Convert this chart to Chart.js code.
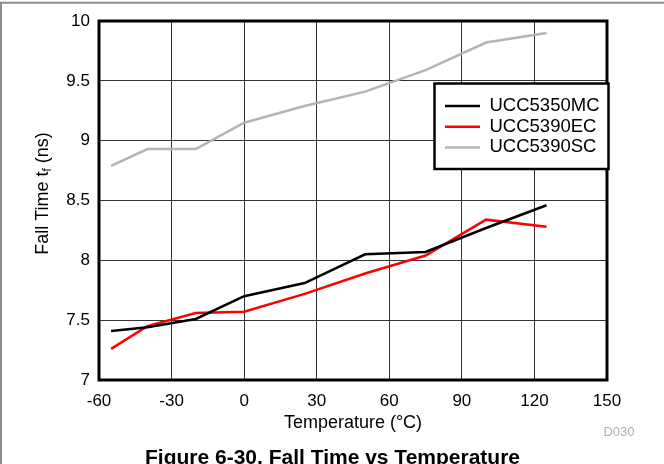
<!DOCTYPE html>
<html>
<head>
<meta charset="utf-8">
<script src="https://cdn.jsdelivr.net/npm/chart.js@4.4.0/dist/chart.umd.min.js"></script>
<style>
    body { margin: 0; background: #fff; }
    canvas { display: block; }
</style>
</head>
<body>
<canvas id="fallChart" width="664" height="464"></canvas>
<script>
// temperatures in °C, fall time in ns
const temps = [-55, -40, -20, 0, 25, 50, 75, 100, 125];
const ucc5350mc = [7.41, 7.44, 7.51, 7.70, 7.81, 8.05, 8.07, 8.27, 8.46];
const ucc5390ec = [7.26, 7.45, 7.56, 7.57, 7.72, 7.89, 8.04, 8.34, 8.28];
const ucc5390sc = [8.79, 8.93, 8.93, 9.15, 9.29, 9.41, 9.59, 9.82, 9.90];
const seriesNames = ["UCC5350MC", "UCC5390EC", "UCC5390SC"];
const xTicks = [-60, -30, 0, 30, 60, 90, 120, 150];
const yTicks = [7, 7.5, 8, 8.5, 9, 9.5, 10];

const FONT = "'Liberation Sans', Arial, sans-serif";

function points(values) {
    return temps.map((t, i) => ({ x: t, y: values[i] }));
}

const decorations = {
    id: "decorations",
    afterDraw(chart) {
        const ctx = chart.ctx;
        const area = chart.chartArea;
        ctx.save();

        // page frame (top and left)
        ctx.strokeStyle = "#8c8c8c";
        ctx.lineWidth = 2;
        ctx.beginPath();
        ctx.moveTo(0, 2.7);
        ctx.lineTo(664, 2.7);
        ctx.moveTo(1, 2);
        ctx.lineTo(1, 464);
        ctx.stroke();

        // plot frame
        ctx.strokeStyle = "#000";
        ctx.lineWidth = 3;
        ctx.strokeRect(area.left, area.top, area.right - area.left, area.bottom - area.top);

        // y axis title with subscript
        const midY = (area.top + area.bottom) / 2 - 7;
        ctx.translate(48, midY);
        ctx.rotate(-Math.PI / 2);
        ctx.fillStyle = "#000";
        ctx.textBaseline = "alphabetic";
        ctx.textAlign = "left";
        const big = "18px " + FONT;
        const small = "12px " + FONT;
        ctx.font = big;
        const w1 = ctx.measureText("Fall Time t").width;
        const w3 = ctx.measureText(" (ns)").width;
        ctx.font = small;
        const w2 = ctx.measureText("f").width;
        let x = -(w1 + w2 + w3) / 2;
        ctx.font = big;
        ctx.fillText("Fall Time t", x, 0);
        x += w1;
        ctx.font = small;
        ctx.fillText("f", x, 3);
        x += w2;
        ctx.font = big;
        ctx.fillText(" (ns)", x, 0);
        ctx.setTransform(1, 0, 0, 1, 0, 0);

        // legend box
        const lx = 434.5, ly = 83.5, lw = 174, lh = 85.5;
        ctx.fillStyle = "#fff";
        ctx.fillRect(lx, ly, lw, lh);
        ctx.strokeStyle = "#000";
        ctx.lineWidth = 2.5;
        ctx.strokeRect(lx, ly, lw, lh);
        ctx.font = "18.5px " + FONT;
        ctx.textBaseline = "middle";
        chart.data.datasets.forEach((ds, i) => {
            const rowY = 106 + i * 20.7;
            ctx.strokeStyle = ds.borderColor;
            ctx.lineWidth = 2.5;
            ctx.beginPath();
            ctx.moveTo(445, rowY);
            ctx.lineTo(480, rowY);
            ctx.stroke();
            ctx.fillStyle = "#000";
            ctx.fillText(ds.label, 489.5, rowY);
        });

        // figure caption and code
        ctx.fillStyle = "#b0b0b0";
        ctx.font = "13px " + FONT;
        ctx.textAlign = "center";
        ctx.fillText("D030", 619, 432);
        ctx.fillStyle = "#000";
        ctx.font = "bold 21px " + FONT;
        ctx.textBaseline = "alphabetic";
        ctx.fillText("Figure 6-30. Fall Time vs Temperature", 332.5, 464);

        ctx.restore();
    }
};

const ctx = document.getElementById("fallChart").getContext("2d");
new Chart(ctx, {
    type: "line",
    data: {
        datasets: [
            { label: seriesNames[0], data: points(ucc5350mc), borderColor: "#000000" },
            { label: seriesNames[1], data: points(ucc5390ec), borderColor: "#ff0000" },
            { label: seriesNames[2], data: points(ucc5390sc), borderColor: "#b4b4b4" }
        ]
    },
    options: {
        responsive: false,
        animation: false,
        devicePixelRatio: 1,
        layout: { padding: { top: 21, right: 57, left: 0, bottom: 0 } },
        elements: {
            line: { borderWidth: 2.5, tension: 0, fill: false },
            point: { radius: 0 }
        },
        plugins: {
            legend: { display: false },
            tooltip: { enabled: false }
        },
        scales: {
            x: {
                type: "linear",
                min: -60,
                max: 150,
                afterBuildTicks: s => { s.ticks = xTicks.map(v => ({ value: v })); },
                afterFit: s => { s.height = 84; },
                ticks: { color: "#000", font: { family: FONT, size: 17 }, padding: 11, maxRotation: 0 },
                grid: { color: "#333", lineWidth: 1, drawTicks: false },
                border: { display: false },
                title: {
                    display: true,
                    text: "Temperature (°C)",
                    color: "#000",
                    font: { family: FONT, size: 18 },
                    padding: { top: 0, bottom: 30 }
                }
            },
            y: {
                min: 7,
                max: 10,
                afterBuildTicks: s => { s.ticks = yTicks.map(v => ({ value: v })); },
                afterFit: s => { s.width = 99; },
                ticks: {
                    color: "#000",
                    font: { family: FONT, size: 17 },
                    padding: 9,
                    callback: v => String(v)
                },
                grid: { color: "#333", lineWidth: 1, drawTicks: false },
                border: { display: false }
            }
        }
    },
    plugins: [decorations]
});
</script>
</body>
</html>
